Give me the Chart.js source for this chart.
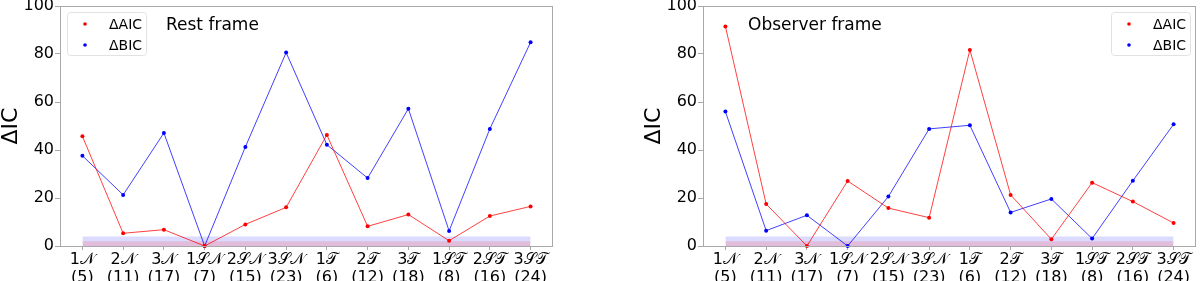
<!DOCTYPE html>
<html><head><meta charset="utf-8"><title>ΔIC rest / observer frame</title>
<script src="https://cdn.jsdelivr.net/npm/chart.js"></script>
<style>
  body { margin: 0; background: #ffffff; }
  .wrap { display: flex; width: 1200px; height: 281px; }
  canvas { display: block; }
</style>
</head>
<body>
<div class="wrap">
  <canvas id="restChart" width="600" height="281"></canvas>
  <canvas id="obsChart" width="600" height="281"></canvas>
</div>
<script>
// model labels and number of free parameters
const categories = ['1𝒩', '2𝒩', '3𝒩', '1𝒮𝒩', '2𝒮𝒩', '3𝒮𝒩', '1𝒯', '2𝒯', '3𝒯', '1𝒮𝒯', '2𝒮𝒯', '3𝒮𝒯'];
const paramCounts = [5, 11, 17, 7, 15, 23, 6, 12, 18, 8, 16, 24];

// rest frame
const restAIC = [45.7, 5.3, 6.8, 0, 9.0, 16.1, 46.3, 8.2, 13.1, 2.2, 12.5, 16.5];
const restBIC = [37.6, 21.3, 47.1, 0, 41.3, 80.6, 42.2, 28.3, 57.2, 6.3, 48.8, 84.9];

// observer frame
const obsAIC = [91.5, 17.5, 0, 27.1, 15.8, 11.8, 81.7, 21.3, 2.8, 26.4, 18.5, 9.6];
const obsBIC = [56.0, 6.4, 12.8, 0, 20.6, 48.8, 50.3, 14.0, 19.6, 3.1, 27.2, 50.7];

const yTicks = [0, 20, 40, 60, 80, 100];
const bandBIC = 4;
const bandAIC = 2;

const FONT = "'DejaVu Sans', sans-serif";
const RED = '#ff0000';
const BLUE = '#0000ff';

function pts(arr) {
  return arr.map((v, i) => ({x: i, y: v}));
}

function band(level) {
  return [{x: 0, y: level}, {x: categories.length - 1, y: level}];
}

// frame + legend + panel title
const decorPlugin = {
  id: 'decor',
  afterDraw(chart, args, opts) {
    const ctx = chart.ctx;
    const a = chart.chartArea;
    ctx.save();
    ctx.strokeStyle = '#a8a8a8';
    ctx.lineWidth = 1;
    ctx.strokeRect(a.left + 0.5, a.top + 0.5, a.right - a.left - 1, a.bottom - a.top);

    // panel title
    ctx.fillStyle = '#000';
    ctx.font = '17px ' + FONT;
    ctx.textBaseline = 'middle';
    ctx.textAlign = 'left';
    ctx.fillText(opts.title, a.left + opts.titleX, 26);

    // legend box
    const w = 79, h = 43;
    const bx = opts.legendSide === 'left' ? a.left + 7 : a.right - 6 - w;
    const by = 12.5;
    ctx.beginPath();
    ctx.roundRect(bx + 0.5, by, w, h, 3);
    ctx.fillStyle = 'rgba(255,255,255,0.8)';
    ctx.fill();
    ctx.strokeStyle = '#e2e2e2';
    ctx.stroke();
    const items = [['ΔAIC', RED], ['ΔBIC', BLUE]];
    ctx.font = '14px ' + FONT;
    items.forEach((it, i) => {
      const cy = by + 11.5 + i * 21;
      ctx.fillStyle = it[1];
      ctx.beginPath();
      ctx.arc(bx + 18, cy, 1.8, 0, Math.PI * 2);
      ctx.fill();
      ctx.fillStyle = '#000';
      ctx.fillText(it[0], bx + 42, cy + 1);
    });
    ctx.restore();
  }
};

function makeChart(id, aic, bic, title, titleX, legendSide, padLeft, padRight) {
  return new Chart(document.getElementById(id), {
    type: 'line',
    data: {
      datasets: [
        {
          data: pts(aic), borderColor: 'rgba(255,0,0,0.75)', borderWidth: 1,
          pointRadius: 2, pointBackgroundColor: RED, pointBorderWidth: 0,
          fill: false, order: 0, clip: 4
        },
        {
          data: pts(bic), borderColor: 'rgba(0,0,255,0.75)', borderWidth: 1,
          pointRadius: 2, pointBackgroundColor: BLUE, pointBorderWidth: 0,
          fill: false, order: 0, clip: 4
        },
        {
          data: band(bandBIC), borderWidth: 0, pointRadius: 0,
          backgroundColor: 'rgba(0,0,255,0.14)', fill: 'origin', order: 2
        },
        {
          data: band(bandAIC), borderWidth: 0, pointRadius: 0,
          backgroundColor: 'rgba(255,0,0,0.14)', fill: 'origin', order: 1
        }
      ]
    },
    options: {
      responsive: false,
      animation: false,
      layout: { padding: { left: padLeft, right: padRight, top: 6, bottom: 0 } },
      plugins: {
        legend: { display: false },
        tooltip: { enabled: false },
        decor: { title: title, titleX: titleX, legendSide: legendSide }
      },
      scales: {
        x: {
          type: 'linear',
          min: -0.55,
          max: categories.length - 1 + 0.55,
          afterBuildTicks: (s) => { s.ticks = categories.map((c, i) => ({value: i})); },
          afterFit: (s) => { s.height = 35; s.paddingLeft = 0; s.paddingRight = 0; },
          grid: { drawOnChartArea: false, drawTicks: true, tickLength: 4, color: '#a8a8a8' },
          border: { display: false },
          ticks: {
            autoSkip: false, maxRotation: 0, padding: 0, color: '#000',
            font: { family: FONT, size: 16, lineHeight: 1.18 },
            callback: (v) => [categories[v], '(' + paramCounts[v] + ')']
          }
        },
        y: {
          min: 0,
          max: 100,
          afterBuildTicks: (s) => { s.ticks = yTicks.map(v => ({value: v})); },
          afterFit: (s) => { s.width = 60; s.paddingTop = 0; s.paddingBottom = 0; },
          grid: { drawOnChartArea: false, drawTicks: true, tickLength: 5, color: '#a8a8a8' },
          border: { display: false },
          ticks: { padding: 1, color: '#000', font: { family: FONT, size: 16 } },
          title: {
            display: true, text: 'ΔIC', color: '#000', padding: 0,
            font: { family: FONT, size: 22, lineHeight: 1 }
          }
        }
      }
    },
    plugins: [decorPlugin]
  });
}

makeChart('restChart', restAIC, restBIC, 'Rest frame', 106, 'left', 0, 47);
makeChart('obsChart', obsAIC, obsBIC, 'Observer frame', 45, 'right', 43, 3);
</script>
</body></html>
